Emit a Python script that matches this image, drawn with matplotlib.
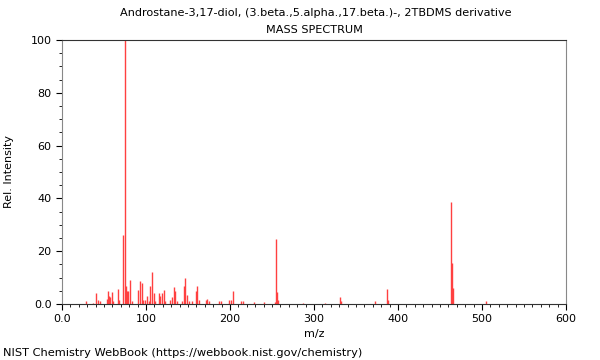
import matplotlib
matplotlib.use("Agg")
import matplotlib.pyplot as plt
from matplotlib.ticker import MultipleLocator

title = "Androstane-3,17-diol, (3.beta.,5.alpha.,17.beta.)-, 2TBDMS derivative"
subtitle = "MASS SPECTRUM"
footer = "NIST Chemistry WebBook (https://webbook.nist.gov/chemistry)"

mz = [29, 37, 41, 43, 45, 53, 55, 56, 57, 59, 61, 67, 68, 73, 75, 76, 77, 79, 81, 83,
      91, 93, 95, 97, 99, 101, 103, 105, 107, 109, 111, 115, 117, 119, 121, 123, 128,
      131, 133, 135, 137, 143, 145, 147, 149, 151, 155, 159, 161, 163, 171, 173, 175,
      187, 189, 199, 201, 203, 213, 215, 229, 241, 253, 255, 256, 257, 287, 313,
      331, 332, 373, 387, 388, 463, 464, 465, 505]
intensity = [1, 0.5, 4, 1.5, 1, 2, 5, 3, 2.5, 4.5, 1, 5.5, 1.5, 26, 100, 7, 5, 5, 9.2, 1,
             5.3, 8.9, 7.8, 1.5, 1.5, 3, 1, 7, 12, 4.3, 1, 4, 3, 4, 5.3, 1.2, 1.5,
             2.5, 6.6, 4.8, 1, 1.2, 7, 10, 3.5, 1, 1, 4.8, 7, 1.5, 1.5, 2, 1,
             1, 1, 1.5, 1.5, 5, 1, 1, 0.7, 0.7, 0.7, 24.5, 4.7, 1.5, 0.5, 0.4,
             2.8, 1, 1, 5.7, 1.5, 38.5, 15.5, 6, 1]

fig = plt.figure(figsize=(6, 3.6), dpi=100)
ax = fig.add_axes([62/600, 56/360, 504/600, 264/360])
ax.vlines(mz, 0, intensity, colors="#ff4040", linewidth=1.0)
ax.set_xlim(0, 600)
ax.set_ylim(0, 100)
ax.xaxis.set_major_locator(MultipleLocator(100))
ax.xaxis.set_minor_locator(MultipleLocator(10))
ax.yaxis.set_major_locator(MultipleLocator(20))
ax.yaxis.set_minor_locator(MultipleLocator(5))
ax.set_xticklabels(["0.0" if t == 0 else f"{int(t)}" for t in ax.get_xticks()], fontsize=8)
ax.set_yticklabels(["0.0" if t == 0 else f"{int(t)}" for t in ax.get_yticks()], fontsize=8)
ax.tick_params(which="major", length=4, width=0.8, direction="out")
ax.tick_params(which="minor", length=2, width=0.6, direction="out")
for s in ["left", "right"]:
    ax.spines[s].set_color("#888888")
ax.spines["top"].set_color("#333333")
ax.spines["bottom"].set_color("#333333")
ax.set_xlabel("m/z", fontsize=8, labelpad=3)
ax.set_ylabel("Rel. Intensity", fontsize=8, labelpad=12)
fig.text(316/600, 1 - 13/360, title, ha="center", va="center", fontsize=8.1)
fig.text(314/600, 1 - 30/360, subtitle, ha="center", va="center", fontsize=8.1)
fig.text(3/600, 1 - 353/360, footer, ha="left", va="center", fontsize=8.2)
fig.savefig("out.png", dpi=100)
